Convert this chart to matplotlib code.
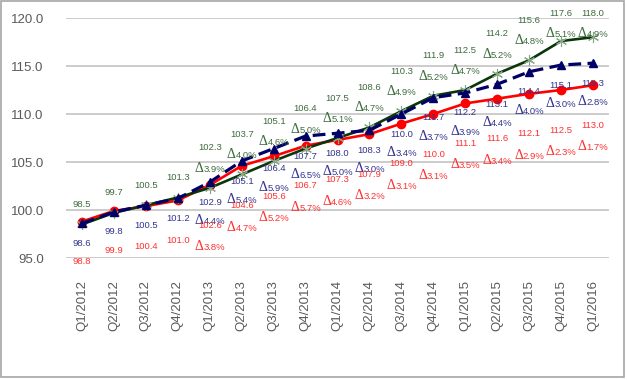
import matplotlib
matplotlib.use("Agg")
import matplotlib.pyplot as plt
from matplotlib.patches import Rectangle

quarters = ["Q1/2012", "Q2/2012", "Q3/2012", "Q4/2012",
            "Q1/2013", "Q2/2013", "Q3/2013", "Q4/2013",
            "Q1/2014", "Q2/2014", "Q3/2014", "Q4/2014",
            "Q1/2015", "Q2/2015", "Q3/2015", "Q4/2015", "Q1/2016"]

green_vals = [98.5, 99.7, 100.5, 101.3, 102.3, 103.7, 105.1, 106.4, 107.5,
              108.6, 110.3, 111.9, 112.5, 114.2, 115.6, 117.6, 118.0]
green_delta = [None, None, None, None, 3.9, 4.0, 4.6, 5.0, 5.1,
               4.7, 4.9, 5.2, 4.7, 5.2, 4.8, 5.1, 4.9]

navy_vals = [98.6, 99.8, 100.5, 101.2, 102.9, 105.1, 106.4, 107.7, 108.0,
             108.3, 110.0, 111.7, 112.2, 113.1, 114.4, 115.1, 115.3]
navy_delta = [None, None, None, None, 4.4, 5.4, 5.9, 6.5, 5.0,
              3.0, 3.4, 3.7, 3.9, 4.4, 4.0, 3.0, 2.8]

red_vals = [98.8, 99.9, 100.4, 101.0, 102.6, 104.6, 105.6, 106.7, 107.3,
            107.9, 109.0, 110.0, 111.1, 111.6, 112.1, 112.5, 113.0]
red_delta = [None, None, None, None, 3.8, 4.7, 5.2, 5.7, 4.6,
             3.2, 3.1, 3.1, 3.5, 3.4, 2.9, 2.3, 1.7]

plt.rcParams['font.family'] = ['Liberation Sans', 'DejaVu Sans']

fig = plt.figure(figsize=(6.27, 3.8), dpi=100)
ax = fig.add_axes([66/627, 1-258/380, 543/627, 240/380])

x = list(range(len(quarters)))

ax.plot(x, red_vals, color='#ff0000', lw=1.9, marker='o', ms=6,
        mfc='#ff0000', mec='#ff0000', zorder=3)
ax.plot(x, green_vals, color='#0b360b', lw=1.9, marker=(6, 2, 0), ms=8,
        mec='#86a886', mew=0.8, zorder=4)
ax.plot(x, navy_vals, color='#000066', lw=2.3, dashes=(4, 2), marker='^',
        ms=6, mfc='#000066', mec='#000066', zorder=5)

ax.set_xlim(-0.5, len(quarters) - 0.5)
ax.set_ylim(95, 120)
ax.set_yticks([95, 100, 105, 110, 115, 120])
ax.set_yticklabels(["%.1f" % v for v in [95, 100, 105, 110, 115, 120]])
ax.set_xticks(x)
ax.set_xticklabels(quarters, rotation=90)
ax.tick_params(axis='both', length=0, colors='#595959', labelsize=9.5)
ax.tick_params(axis='y', pad=16)
ax.tick_params(axis='x', pad=16)
ax.grid(axis='y', color='#c4c4c4', lw=1.2)
ax.set_axisbelow(True)
for s in ax.spines.values():
    s.set_visible(False)

PX = 9.6  # pixels per data unit


def put_value(i, y, txt, color):
    ax.text(i, y, txt, ha='center', va='center', fontsize=6.8, color=color,
            clip_on=False, zorder=6)


def put_delta(i, y, d, color):
    # y is vertical centre of the label; Δ in serif, number in sans
    yb = y - 4 / PX
    ax.annotate("\u0394", xy=(i, yb), xytext=(-4.5, 0), textcoords='offset points',
                ha='right', va='baseline', fontsize=10, color=color,
                family=['Liberation Serif', 'DejaVu Serif'], annotation_clip=False, zorder=6)
    ax.annotate("%.1f%%" % d, xy=(i, yb), xytext=(-4.5, 0), textcoords='offset points',
                ha='left', va='baseline', fontsize=6.8, color=color,
                annotation_clip=False, zorder=6)


gcol = '#3e6b3e'
ncol = '#33338f'
rcol = '#ff3030'

for i in x:
    g = green_vals[i]
    if green_delta[i] is None:
        put_value(i, g + 20 / PX, "%.1f" % g, gcol)
    else:
        put_value(i, min(g + 40 / PX, 120.52), "%.1f" % g, gcol)
        put_delta(i, min(g + 20 / PX, 118.44), green_delta[i], gcol)

    n = navy_vals[i]
    put_value(i, n - 20 / PX, "%.1f" % n, ncol)
    if navy_delta[i] is not None:
        put_delta(i, n - 38 / PX, navy_delta[i], ncol)

    r = red_vals[i]
    put_value(i, r - 40 / PX, "%.1f" % r, rcol)
    if red_delta[i] is not None:
        put_delta(i, r - 61 / PX, red_delta[i], rcol)

fig.patches.append(Rectangle((1/627, 3/380), 623/627, 376/380, transform=fig.transFigure,
                             fill=False, edgecolor='#a6a6a6', lw=1.2))

fig.savefig("out.png", dpi=100)
